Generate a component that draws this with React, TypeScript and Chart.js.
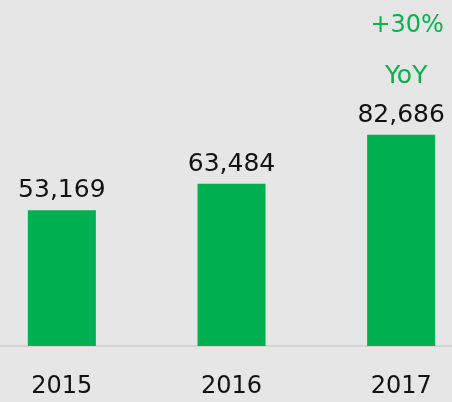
import React, { useEffect, useRef } from "react";
import { Chart, registerables } from "chart.js";

Chart.register(...registerables);

const categories = ["2015", "2016", "2017"];
const revenue = [53169, 63484, 82686];
const growthLabel = "+30%";
const growthSub = "YoY";

const GREEN = "#00b050";
const BG = "#e6e6e6";
const FONT = "'DejaVu Sans', sans-serif";

export default function App() {
  const ref = useRef<HTMLCanvasElement | null>(null);

  useEffect(() => {
    if (!ref.current) return;
    const labelsPlugin = {
      id: "valueLabels",
      afterDatasetsDraw(chart: any) {
        const ctx = chart.ctx;
        const meta = chart.getDatasetMeta(0);
        ctx.save();
        ctx.textAlign = "center";
        ctx.textBaseline = "alphabetic";
        ctx.font = `25px ${FONT}`;
        ctx.fillStyle = "#111111";
        meta.data.forEach((el: any, i: number) => {
          ctx.fillText(revenue[i].toLocaleString("en-US"), el.x, el.y - 13);
        });
        const last = meta.data[meta.data.length - 1];
        ctx.fillStyle = GREEN;
        ctx.font = `24px ${FONT}`;
        ctx.fillText(growthLabel, last.x + 6, last.y - 103);
        ctx.font = `25px ${FONT}`;
        ctx.fillText(growthSub, last.x + 5, last.y - 52);
        ctx.restore();
      },
    };
    const chart = new Chart(ref.current, {
      type: "bar",
      data: {
        labels: categories,
        datasets: [
          {
            data: revenue,
            backgroundColor: GREEN,
            categoryPercentage: 1,
            barPercentage: 0.401,
          },
        ],
      },
      options: {
        animation: false,
        responsive: false,
        layout: { padding: { top: 14, left: 0, right: 0, bottom: 0 } },
        plugins: { legend: { display: false }, tooltip: { enabled: false } },
        scales: {
          y: { display: false, min: 0, max: 130000 },
          x: {
            offset: true,
            grid: { display: false, drawTicks: false },
            border: { display: true, color: "#d4d4d4", width: 2 },
            ticks: {
              color: "#111111",
              font: { family: FONT, size: 24 },
              padding: 26,
              maxRotation: 0,
            },
            afterFit: (scale: any) => {
              scale.height = 56;
            },
          },
        },
      },
      plugins: [labelsPlugin],
    });
    return () => chart.destroy();
  }, []);

  return (
    <div
      style={{
        position: "fixed",
        left: 0,
        top: 0,
        width: 452,
        height: 402,
        overflow: "hidden",
        background: BG,
      }}
    >
      <canvas
        ref={ref}
        width={509}
        height={402}
        style={{ position: "absolute", left: -23, top: 0, width: 509, height: 402 }}
      />
    </div>
  );
}
